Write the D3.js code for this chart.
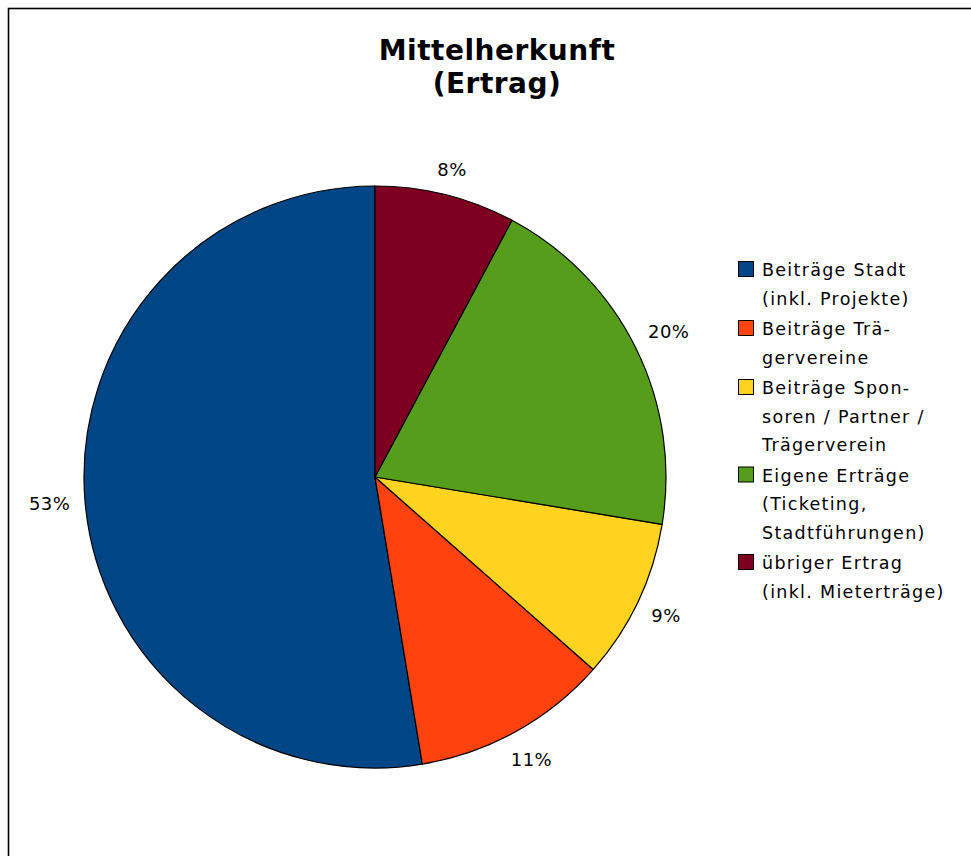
<!DOCTYPE html>
<html>
<head>
<meta charset="utf-8">
<script src="https://cdn.jsdelivr.net/npm/d3@7"></script>
<style>
  body { margin: 0; background: #fff; }
  text { font-family: "DejaVu Sans", sans-serif; fill: #000; }
</style>
</head>
<body>
<script>
// chart data
var categories = ["Beiträge Stadt (inkl. Projekte)", "Beiträge Trägervereine",
                  "Beiträge Sponsoren / Partner / Trägerverein",
                  "Eigene Erträge (Ticketing, Stadtführungen)", "übriger Ertrag (inkl. Mieterträge)"];
var values = [52.6, 10.9, 8.9, 19.8, 7.8];
var percentLabels = ["53%", "11%", "9%", "20%", "8%"];
// legend lines as wrapped in the original
var legendLines = [
  ["Beiträge Stadt", "(inkl. Projekte)"],
  ["Beiträge Trä-", "gervereine"],
  ["Beiträge Spon-", "soren / Partner /", "Trägerverein"],
  ["Eigene Erträge", "(Ticketing,", "Stadtführungen)"],
  ["übriger Ertrag", "(inkl. Mieterträge)"]
];
var colors = ["#004586", "#ff420e", "#ffd320", "#579d1c", "#7e0021"];

var w = 971, h = 856;
var cx = 375, cy = 477, r = 291;

var svg = d3.select("body").append("svg")
            .attr("width", w)
            .attr("height", h);

// frame (only top and left visible)
svg.append("rect")
   .attr("x", 8.5).attr("y", 8.5)
   .attr("width", w + 20).attr("height", h + 20)
   .attr("fill", "none")
   .attr("stroke", "#000")
   .attr("stroke-width", 1.6);

// title
svg.append("text")
   .attr("x", 497).attr("y", 60)
   .attr("text-anchor", "middle")
   .style("font-size", "28px").style("font-weight", "bold")
   .style("letter-spacing", "0.5px")
   .text("Mittelherkunft");
svg.append("text")
   .attr("x", 497).attr("y", 93)
   .attr("text-anchor", "middle")
   .style("font-size", "28px").style("font-weight", "bold")
   .style("letter-spacing", "0.5px")
   .text("(Ertrag)");

// pie, drawn counter-clockwise from 12 o'clock
var pie = d3.pie()
            .sort(null)
            .startAngle(2 * Math.PI)
            .endAngle(0);
var arcs = pie(values);
var arc = d3.arc().innerRadius(0).outerRadius(r);

var g = svg.append("g")
           .attr("transform", "translate(" + cx + "," + cy + ")");

g.selectAll("path")
 .data(arcs)
 .enter()
 .append("path")
 .attr("d", arc)
 .attr("fill", function(d, i) { return colors[i]; })
 .attr("stroke", "#000")
 .attr("stroke-width", 1.2)
 .attr("stroke-linejoin", "round");

// percent labels outside the slices, along the mid-angle ray
var labelSize = 18;
g.selectAll(".pct")
 .data(arcs)
 .enter()
 .append("text")
 .attr("class", "pct")
 .style("font-size", labelSize + "px")
 .style("letter-spacing", "0.5px")
 .attr("text-anchor", "middle")
 .attr("dominant-baseline", "central")
 .text(function(d, i) { return percentLabels[i]; })
 .each(function(d) {
     var a = (d.startAngle + d.endAngle) / 2;
     var ux = Math.sin(a), uy = -Math.cos(a);
     var tw = this.getComputedTextLength();
     var dist = r + 14 + Math.abs(ux) * tw / 2 + Math.abs(uy) * labelSize / 2;
     d3.select(this).attr("x", dist * ux).attr("y", dist * uy);
 });

// legend
var legend = svg.append("g").attr("transform", "translate(738,261)");
var lineH = 28.5, gap = 2;
var yy = 0;
legendLines.forEach(function(lines, i) {
    legend.append("rect")
          .attr("x", 0.5).attr("y", yy + 0.5)
          .attr("width", 15).attr("height", 15)
          .attr("fill", colors[i])
          .attr("stroke", "#000")
          .attr("stroke-width", 1);
    lines.forEach(function(t, j) {
        legend.append("text")
              .attr("x", 24)
              .attr("y", yy + 15 + j * lineH)
              .style("font-size", "17.5px")
              .style("letter-spacing", "1.3px")
              .text(t);
    });
    yy += lines.length * lineH + gap;
});
</script>
</body>
</html>
